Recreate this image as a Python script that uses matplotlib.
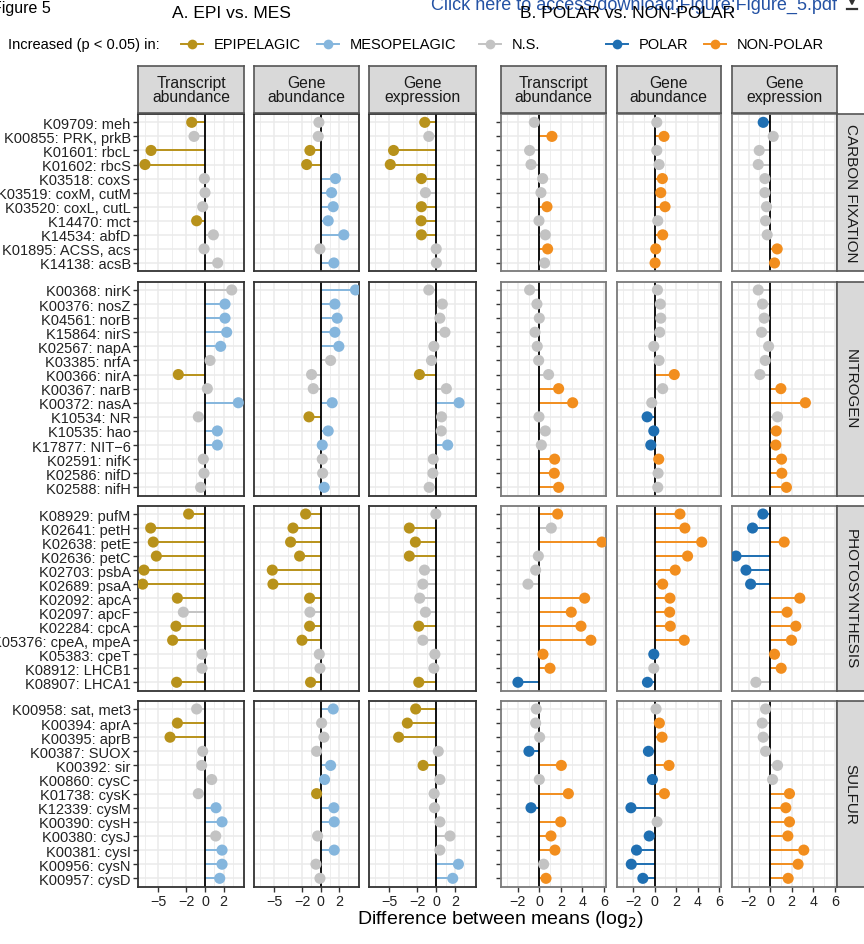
import matplotlib
matplotlib.use("Agg")
import matplotlib.pyplot as plt
from matplotlib.lines import Line2D

plt.rcParams['font.family'] = ['Liberation Sans', 'DejaVu Sans']

# ---- data ----
panel_titles = ["Transcript\nabundance", "Gene\nabundance", "Gene\nexpression"]
group_names = ["CARBON FIXATION", "NITROGEN", "PHOTOSYNTHESIS", "SULFUR"]

carbon_genes = ["K09709: meh", "K00855: PRK, prkB", "K01601: rbcL", "K01602: rbcS",
                "K03518: coxS", "K03519: coxM, cutM", "K03520: coxL, cutL", "K14470: mct",
                "K14534: abfD", "K01895: ACSS, acs", "K14138: acsB"]
nitrogen_genes = ["K00368: nirK", "K00376: nosZ", "K04561: norB", "K15864: nirS",
                  "K02567: napA", "K03385: nrfA", "K00366: nirA", "K00367: narB",
                  "K00372: nasA", "K10534: NR", "K10535: hao", "K17877: NIT\u22126",
                  "K02591: nifK", "K02586: nifD", "K02588: nifH"]
photo_genes = ["K08929: pufM", "K02641: petH", "K02638: petE", "K02636: petC",
               "K02703: psbA", "K02689: psaA", "K02092: apcA", "K02097: apcF",
               "K02284: cpcA", "K05376: cpeA, mpeA", "K05383: cpeT", "K08912: LHCB1",
               "K08907: LHCA1"]
sulfur_genes = ["K00958: sat, met3", "K00394: aprA", "K00395: aprB", "K00387: SUOX",
                "K00392: sir", "K00860: cysC", "K01738: cysK", "K12339: cysM",
                "K00390: cysH", "K00380: cysJ", "K00381: cysI", "K00956: cysN",
                "K00957: cysD"]

# columns: A transcript, A gene abundance, A gene expression,
#          B transcript, B gene abundance, B gene expression
carbon_vals = [
    [-1.43, -1.18, -5.8, -6.45, -0.07, 0.0, -0.25, -0.9, 0.9, -0.1, 1.36],
    [-0.18, -0.25, -1.15, -1.5, 1.6, 1.18, 1.36, 0.82, 2.5, -0.07, 1.43],
    [-1.22, -0.79, -4.55, -4.9, -1.58, -1.15, -1.58, -1.61, -1.58, 0.0, 0.02],
    [-0.46, 1.17, -0.9, -0.77, 0.31, 0.15, 0.71, -0.03, 0.56, 0.77, 0.49],
    [0.19, 0.86, 0.19, 0.4, 0.71, 0.56, 0.96, 0.28, 0.74, 0.09, 0.03],
    [-0.65, 0.28, -1.02, -1.11, -0.49, -0.49, -0.34, -0.43, -0.28, 0.65, 0.4],
]
# E=epipelagic, M=mesopelagic, N=n.s., P=polar, O=non-polar
carbon_sig = ["ENEENNNENNN", "NNEEMMMMMNM", "ENEEENEEENN",
              "NONNNNONNON", "NONNOOONOOO", "PNNNNNNNNOO"]

nitrogen_vals = [
    [2.87, 2.15, 2.15, 2.33, 1.68, 0.54, -2.87, 0.25, 3.58, -0.72, 1.33, 1.33, -0.18, -0.11, -0.47],
    [3.76, 1.54, 1.79, 1.54, 1.97, 1.08, -0.97, -0.79, 1.25, -1.25, 0.82, 0.18, 0.18, 0.22, 0.39],
    [-0.79, 0.65, 0.39, 0.93, -0.25, -0.5, -1.79, 1.08, 2.44, 0.57, 0.54, 1.22, -0.32, -0.36, -0.75],
    [-0.9, -0.22, 0.0, -0.4, -0.19, -0.06, 0.86, 1.79, 3.09, -0.03, 0.56, 0.19, 1.42, 1.39, 1.79],
    [0.25, 0.52, 0.56, 0.46, -0.09, 0.4, 1.82, 0.74, -0.28, -0.71, -0.09, -0.37, 0.37, 0.31, 0.28],
    [-1.11, -0.71, -0.56, -0.8, -0.15, -0.46, -0.96, 0.99, 3.27, 0.68, 0.56, 0.52, 1.05, 1.08, 1.51],
]
nitrogen_sig = ["NMMMMNENMNMMNNN", "MMMMMNNNMEMMNNM", "NNNNNNENMNNMNNN",
                "NNNNNNNOONNNOOO", "NNNNNNONNPPPONN", "NNNNNNNOONOOOOO"]

photo_vals = [
    [-1.76, -5.84, -5.56, -5.23, -6.56, -6.7, -2.97, -2.33, -3.12, -3.48, -0.32, -0.32, -3.05],
    [-1.61, -2.97, -3.23, -2.26, -5.2, -5.13, -1.18, -1.15, -1.18, -2.0, -0.14, -0.07, -1.08],
    [-0.04, -2.87, -2.22, -2.87, -1.25, -1.43, -1.76, -1.15, -1.86, -1.43, -0.14, -0.25, -1.86],
    [1.7, 1.11, 5.8, -0.09, -0.34, -1.05, 4.2, 2.96, 3.86, 4.78, 0.34, 0.99, -1.98],
    [2.35, 2.81, 4.38, 3.06, 1.91, 0.74, 1.42, 1.39, 1.45, 2.75, -0.09, -0.09, -0.68],
    [-0.68, -1.64, 1.3, -3.18, -2.25, -1.82, 2.75, 1.57, 2.38, 1.98, 0.4, 1.02, -1.33],
]
photo_sig = ["EEEEEEENEENNE", "EEEEEEENEENNE", "NEEENNNNENNNE",
             "ONONNNOOOOOOP", "OOOOOOOOOOPNP", "PPOPPPOOOOOON"]

sulfur_vals = [
    [-0.9, -2.97, -3.76, -0.25, -0.36, 0.72, -0.72, 1.18, 1.83, 1.15, 1.83, 1.83, 1.58],
    [1.36, 0.11, 0.36, -0.43, 1.08, 0.43, -0.43, 1.43, 1.47, -0.32, 1.47, -0.5, -0.07],
    [-2.19, -3.08, -4.01, 0.22, -1.4, 0.39, -0.22, -0.18, 0.39, 1.47, 0.39, 2.37, 1.76],
    [-0.28, -0.34, 0.03, -0.96, 2.04, 0.0, 2.69, -0.77, 1.98, 1.08, 1.45, 0.4, 0.62],
    [0.12, 0.43, 0.68, -0.59, 1.33, -0.22, 0.9, -2.22, 0.22, -0.52, -1.7, -2.19, -1.11],
    [-0.43, -0.74, -0.65, -0.43, 0.68, 0.22, 1.79, 1.45, 1.79, 1.64, 3.12, 2.59, 1.67],
]
sulfur_sig = ["NEENNNNMMNMMM", "MNNNMMEMMNMNN", "EEENENNNNNNMM",
              "NNNPONOPOOONO", "NOOPOPOPNPPPP", "NNNNNNOOOOOOO"]

legend_labels = ["EPIPELAGIC", "MESOPELAGIC", "N.S.", "POLAR", "NON-POLAR"]
colors = {"E": "#B8921B", "M": "#85B6DD", "N": "#C3C3C3", "P": "#1F6FB2", "O": "#F28E1E"}

genes = [carbon_genes, nitrogen_genes, photo_genes, sulfur_genes]
vals = [carbon_vals, nitrogen_vals, photo_vals, sulfur_vals]
sigs = [carbon_sig, nitrogen_sig, photo_sig, sulfur_sig]

# ---- layout (pixels) ----
W, H = 864, 945
fig = plt.figure(figsize=(W / 100, H / 100), dpi=100)


def box(l, t, r, b):
    return [l / W, 1 - b / H, (r - l) / W, (b - t) / H]


def ftxt(x, y, s, **kw):
    fig.text(x / W, 1 - y / H, s, **kw)


col_x = [(138.3, 244), (254, 359.5), (369, 475.5), (501, 606), (616.7, 721), (732, 836.7)]
row_y = [(114.9, 272.4), (282.5, 496.8), (506.6, 691.7), (701.5, 887.8)]

for gi in range(4):
    n = len(genes[gi])
    for ci in range(6):
        l, r = col_x[ci]
        t, b = row_y[gi]
        ax = fig.add_axes(box(l, t, r, b))
        v = vals[gi][ci]
        c = [colors[s] for s in sigs[gi][ci]]
        y = list(range(n))
        ax.hlines(y, 0, v, colors=c, lw=1.4, zorder=2)
        ax.axvline(0, color='black', lw=1.3, zorder=2.5)
        ax.scatter(v, y, s=64, c=c, linewidths=0, zorder=3)
        ax.set_ylim(n - 0.4, -0.6)
        if ci < 3:
            ax.set_xlim(-7.17, 4.19)
            ax.set_xticks([-5, -2, 0, 2])
            ax.set_xticks([-6.5, -3.5, -1, 1, 3], minor=True)
            border = '#333333'
        else:
            ax.set_xlim(-3.55, 6.18)
            ax.set_xticks([-2, 0, 2, 4, 6])
            ax.set_xticks([-3, -1, 1, 3, 5], minor=True)
            border = '#7A7A7A'
        ax.set_yticks(y)
        ax.set_axisbelow(True)
        ax.grid(which='major', color='#EBEBEB', lw=1.1)
        ax.grid(which='minor', axis='x', color='#EBEBEB', lw=0.6)
        for sp in ax.spines.values():
            sp.set_color(border)
            sp.set_linewidth(1.3)
        ax.tick_params(which='minor', length=0)
        ax.tick_params(axis='x', length=3.5, width=1, color='#333333',
                       labelsize=10.3, labelcolor='#222222', pad=2,
                       bottom=(gi == 3), labelbottom=(gi == 3))
        ax.tick_params(axis='y', length=3.5, width=1, color='#333333',
                       labelsize=10.5, labelcolor='#222222', pad=2,
                       left=(ci in (0, 3)), labelleft=(ci == 0))
        if ci == 0:
            ax.set_yticklabels(genes[gi])

    # facet strip on the right
    t, b = row_y[gi]
    sax = fig.add_axes(box(836.7, t, 868, b))
    sax.set_facecolor('#D9D9D9')
    sax.set_xticks([])
    sax.set_yticks([])
    for sp in sax.spines.values():
        sp.set_color('#555555')
        sp.set_linewidth(1.2)
    sax.text(0.45, 0.5, group_names[gi], rotation=270, ha='center', va='center',
             fontsize=11, color='#1A1A1A', transform=sax.transAxes)

# strips on top
for ci in range(6):
    l, r = col_x[ci]
    sax = fig.add_axes(box(l, 67, r, 113.5))
    sax.set_facecolor('#D9D9D9')
    sax.set_xticks([])
    sax.set_yticks([])
    for sp in sax.spines.values():
        sp.set_color('#555555')
        sp.set_linewidth(1.2)
    sax.text(0.5, 0.5, panel_titles[ci % 3], ha='center', va='center',
             fontsize=11.3, color='#1A1A1A', linespacing=0.95,
             transform=sax.transAxes)

# header texts
ftxt(-8, 8, "Figure 5", fontsize=11.5, ha='left', va='center')
ftxt(431, 5, "Click here to access/download;Figure;Figure_5.pdf", fontsize=13,
     color='#2452A4', ha='left', va='center')
ftxt(231, 14, "A. EPI vs. MES", fontsize=12.5, ha='center', va='center')
ftxt(628, 13, "B. POLAR vs. NON-POLAR", fontsize=12.5, ha='center', va='center')

# overlay axes in pixel coordinates for the legend row and the download icon
lax = fig.add_axes([0, 0, 1, 1])
lax.set_xlim(0, W)
lax.set_ylim(H, 0)
lax.axis('off')
lax.patch.set_alpha(0)

# download icon (arrow to bar), drawn as a shape
lax.annotate("", xy=(852, 7), xytext=(852, -1),
             arrowprops=dict(arrowstyle='-|>', color='#333333', lw=1.6,
                             mutation_scale=9, shrinkA=0, shrinkB=0))
lax.add_line(Line2D([847, 857], [9.5, 9.5], color='#333333', lw=1.6))

ftxt(8, 45, "Increased (p < 0.05) in:", fontsize=10.5, ha='left', va='center')
key_x = [192, 328, 490, 617, 715]
for kx, lab, code in zip(key_x, legend_labels, "EMNPO"):
    lax.add_line(Line2D([kx - 11, kx + 11], [45, 45], color=colors[code], lw=1.4))
    lax.plot([kx], [45], 'o', ms=7, color=colors[code], mew=0)
    lax.text(kx + 22, 45, lab, fontsize=10.5, ha='left', va='center')

ftxt(500, 920, "Difference between means (log$_2$)", fontsize=14, ha='center', va='center')

fig.savefig("out.png", dpi=100)
